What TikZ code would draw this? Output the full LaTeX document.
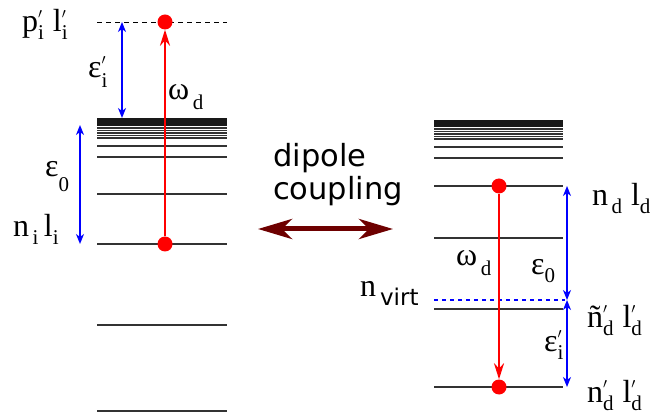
\documentclass[tikz,border=0pt]{standalone}
\usepackage{fontspec}
\setmainfont{Liberation Serif}
\setsansfont{DejaVu Sans}
\usetikzlibrary{arrows.meta}
\definecolor{couplingred}{RGB}{110,0,0}
% level label: base, superscript (prime), subscript
\newcommand{\lv}[4][0.25em]{#2\rlap{\raisebox{0.42em}{\fontsize{21}{21}\selectfont#3}}\raisebox{-#1}{\fontsize{21}{21}\selectfont#4}}
\newcommand{\pr}{$\scriptstyle\prime$}

\begin{document}
\begin{tikzpicture}[x=1pt,y=-1pt,
    level/.style={line width=1.3pt,black!80},
    band/.style={line width=7.5pt,black!90},
    dot/.style={circle,fill=red,inner sep=0pt,minimum size=15pt},
    photon/.style={red,line width=2pt,-{Stealth[length=16pt,width=10pt,inset=5pt]}},
    gap/.style={blue,line width=1.5pt,{Stealth[length=10pt,width=8pt,inset=3pt]}-{Stealth[length=10pt,width=8pt,inset=3pt]}},
    lab/.style={anchor=base west,inner sep=0pt,font=\fontsize{32}{34}\selectfont}]
    \useasboundingbox (0,0) rectangle (650,419);
    % initial atom (left)
    \draw[band] (97,122) -- (227,122);
    \foreach \y in {128,130.5,133,135.5,138,146,157,194,244,325,411}
        \draw[level] (97,\y) -- (227,\y);
    \draw[line width=0.8pt,dash pattern=on 5pt off 4pt] (97,22) -- (227,22);
    % donor atom (right)
    \draw[band] (434,123.5) -- (563,123.5);
    \foreach \y in {129,131.5,134,136.5,139,147,158,186,238,309,387}
        \draw[level] (434,\y) -- (563,\y);
    \draw[blue,line width=1.2pt,dash pattern=on 4pt off 4pt] (434,300) -- (565,300);
    % dots and transitions
    \node[dot] (ilow) at (165,244) {};
    \node[dot] (iup) at (165,22) {};
    \node[dot] (dup) at (499,186) {};
    \node[dot] (dlow) at (499,387) {};
    \draw[photon] (ilow) -- (iup);
    \draw[photon] (dup) -- (dlow);
    % energy gaps
    \coordinate (gt) at (122,22);
    \coordinate (gb) at (122,118);
    \coordinate (ga) at (80,125);
    \coordinate (gc) at (80,244);
    \coordinate (ra) at (567,186);
    \coordinate (rv) at (567,300);
    \coordinate (rb) at (567,387);
    \draw[gap] (gt) -- (gb);
    \draw[gap] (ga) -- (gc);
    \draw[gap] (ra) -- (rv);
    \draw[gap] (rv) -- (rb);
    % coupling
    \coordinate (cl) at (258,229);
    \coordinate (cr) at (393,229);
    \draw[couplingred,line width=5pt,{Stealth[length=34pt,width=20pt,inset=10pt]}-{Stealth[length=34pt,width=20pt,inset=10pt]}] (cl) -- (cr);
    \node[anchor=base west,align=left,inner sep=0pt,font=\sffamily\fontsize{30.5}{33}\selectfont] (coupling) at (273,200) {dipole\\coupling};
    % labels
    \node[lab] (pl) at (22,32) {\lv{p}{\pr}{i}\;\lv{l}{\pr}{i}};
    \node[lab] (eps1) at (88,78) {\lv[0.3em]{ε}{\pr}{i}};
    \node[lab] (om1) at (168,100) {\lv[0.3em]{ω}{}{\,d}};
    \node[lab] (eps0) at (45,177) {\lv[0.45em]{ε}{}{0}};
    \node[lab] (nl) at (13,237) {\lv{n}{}{\,i}\,\lv{l}{}{i}};
    \node[lab] (ndl) at (592,206) {\lv{n}{}{\,d}\;\lv{l}{}{d}};
    \node[lab] (eps2) at (531,275) {\lv{ε}{}{0}};
    \node[lab] (om2) at (456,266) {\lv[0.3em]{ω}{}{\,d}};
    \node[lab] (nv) at (360,297) {n\raisebox{-0.28em}{\sffamily\fontsize{23}{23}\selectfont\,virt}};
    \node[lab] (ntl) at (587,327) {\lv{ñ}{\pr}{d}\;\lv{l}{\pr}{d}};
    \node[lab] (eps3) at (544,352) {\lv{ε}{\pr}{i}};
    \node[lab] (npl) at (587,402) {\lv{n}{\pr}{d}\;\lv{l}{\pr}{d}};
\end{tikzpicture}
\end{document}
